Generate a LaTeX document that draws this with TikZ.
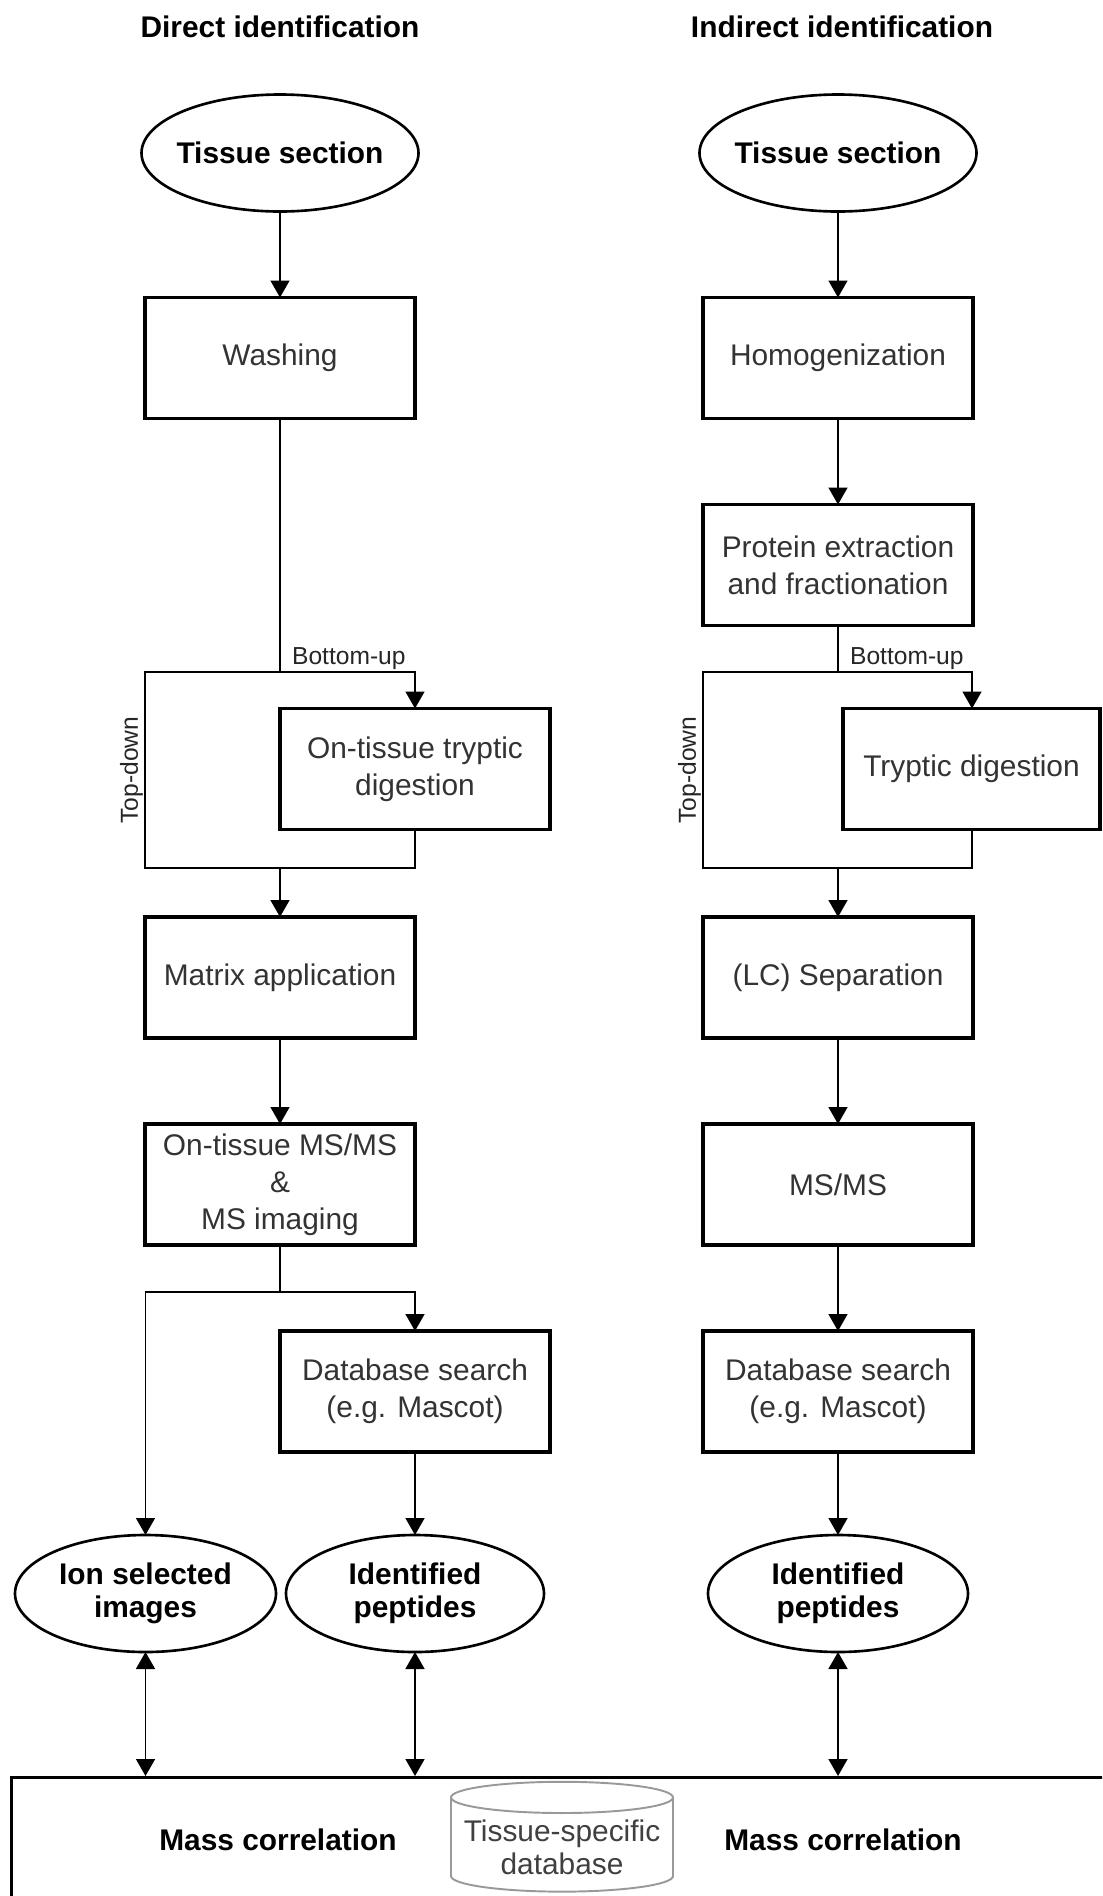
\documentclass[tikz,border=0pt]{standalone}
\usepackage{fontspec}
\setmainfont{Liberation Sans}
\usetikzlibrary{calc}
\usetikzlibrary{shapes,arrows.meta,positioning,shapes.geometric}

\begin{document}
\begin{tikzpicture}[node distance=1.72cm, auto]
    % Define styles
    \tikzstyle{stage} = [rectangle, draw, line width=1.8pt, fill=white, outer sep=0pt, minimum width=5.4cm, minimum height=2.42cm, align=center, text=black!80, font=\fontsize{17}{21}\selectfont]
    \tikzstyle{sample} = [ellipse, draw, line width=1.5pt, fill=white, outer sep=0pt, minimum width=5.54cm, minimum height=2.34cm, inner xsep=-0.15cm, inner ysep=0.05cm, align=center, font=\fontsize{17}{19}\selectfont\bfseries]
    \tikzstyle{heading} = [font=\fontsize{17}{20}\selectfont\bfseries]
    \tikzstyle{route} = [font=\fontsize{14}{16}\selectfont, inner sep=1pt, text=black!85]
    \tikzstyle{link} = [line width=0.9pt]
    \tikzstyle{arrow} = [-{Triangle[length=3.4mm, width=3.8mm]}, line width=0.9pt]
    \tikzstyle{twoway} = [{Triangle[length=3.4mm, width=3.8mm]}-{Triangle[length=3.4mm, width=3.8mm]}, line width=0.9pt]

    \useasboundingbox (0,0) rectangle (22.04,-37.92);
    \clip (0,0) rectangle (22.04,-37.92);

    % Titles
    \node[heading] (dtitle) at (5.6,-0.54) {Direct identification};
    \node[heading] (ititle) at (16.84,-0.54) {Indirect identification};

    % Direct identification
    \node[sample] (tis1) at (5.6,-3.06) {Tissue section};
    \node[stage, below=of tis1] (wash) {Washing};
    \coordinate (b1tl) at (2.9,-13.44);
    \coordinate (b1bl) at (2.9,-17.36);
    \coordinate (join1) at (wash.south |- b1bl);
    \node[stage, below=5.8cm of wash.south, anchor=north west] (tryp1) {On-tissue tryptic\\digestion};
    \node[stage, below=0.98cm of join1] (matrix) {Matrix application};
    \node[stage, below=of matrix] (msms) {On-tissue MS/MS\\\&\\MS imaging};
    \coordinate[below=0.94cm of msms] (split1);
    \node[stage, below=1.72cm of msms.south, anchor=north west] (dbs1) {Database search\\(e.g. Mascot)};
    \node[sample, below=1.66cm of dbs1, minimum width=5.16cm] (pep1) {Identified\\peptides};
    \node[sample, left=0.2cm of pep1, minimum width=5.22cm] (ion) {Ion selected\\images};

    % Indirect identification
    \node[stage, right=5.76cm of wash] (homog) {Homogenization};
    \node[sample, above=of homog] (tis2) {Tissue section};
    \node[stage, below=of homog] (prot) {Protein extraction\\and fractionation};
    \coordinate (b2tl) at (14.06,-13.44);
    \coordinate (b2bl) at (14.06,-17.36);
    \coordinate (b2tr) at (19.44,-13.44);
    \coordinate (b2br) at (19.44,-17.36);
    \coordinate (join2) at (homog.south |- b2bl);
    \node[stage, below=5.8cm of homog.south, anchor=north west, xshift=0.1cm, minimum width=5.14cm] (tryp2) {Tryptic digestion};
    \node[stage, below=0.98cm of join2] (lc) {(LC) Separation};
    \node[stage, below=of lc] (ms2) {MS/MS};
    \node[stage, below=of ms2] (dbs2) {Database search\\(e.g. Mascot)};
    \node[sample, below=1.66cm of dbs2, minimum width=5.2cm] (pep2) {Identified\\peptides};

    % Mass correlation
    \node[draw, line width=1.8pt, anchor=north west, minimum width=23cm, minimum height=3cm] (corr) at (0.2,-35.52) {};
    \node[heading] (mc1) at (5.56,-36.8) {Mass correlation};
    \node[heading] (mc2) at (16.86,-36.8) {Mass correlation};
    \node[cylinder, shape border rotate=90, shape aspect=0.15, draw=black!40, line width=1.1pt, minimum width=4.44cm, minimum height=2.1cm, align=center, text=black!75, font=\fontsize{17}{19}\selectfont] (tsdb) at (11.24,-36.95) {Tissue-specific\\database};

    % Direct connectors
    \draw[arrow] (tis1) -- (wash);
    \draw[link] (wash) -- (wash.south |- b1tl);
    \draw[arrow] (tryp1.south) -- (tryp1.south |- b1bl) -- (b1bl) -- (b1tl) -- (tryp1.north |- b1tl) -- (tryp1.north);
    \node[route, anchor=south west, xshift=0.2cm] (bu1) at (wash.south |- b1tl) {Bottom-up};
    \node[route, rotate=90, anchor=south] (td1) at ($(b1tl)!0.5!(b1bl)$) {Top-down};
    \draw[arrow] (join1) -- (matrix);
    \draw[arrow] (matrix) -- (msms);
    \draw[link] (msms) -- (split1);
    \draw[arrow] (split1) -| (dbs1);
    \draw[arrow] (split1) -| (ion);
    \draw[arrow] (dbs1) -- (pep1);
    \draw[twoway] (ion) -- (ion |- corr.north);
    \draw[twoway] (pep1) -- (pep1 |- corr.north);

    % Indirect connectors
    \draw[arrow] (tis2) -- (homog);
    \draw[arrow] (homog) -- (prot);
    \draw[link] (prot) -- (prot.south |- b2tl);
    \draw[arrow] (b2br |- tryp2.south) -- (b2br) -- (b2bl) -- (b2tl) -- (b2tr) -- (b2tr |- tryp2.north);
    \node[route, anchor=south west, xshift=0.2cm] (bu2) at (prot.south |- b2tl) {Bottom-up};
    \node[route, rotate=90, anchor=south] (td2) at ($(b2tl)!0.5!(b2bl)$) {Top-down};
    \draw[arrow] (join2) -- (lc);
    \draw[arrow] (lc) -- (ms2);
    \draw[arrow] (ms2) -- (dbs2);
    \draw[arrow] (dbs2) -- (pep2);
    \draw[twoway] (pep2) -- (pep2 |- corr.north);
\end{tikzpicture}
\end{document}
